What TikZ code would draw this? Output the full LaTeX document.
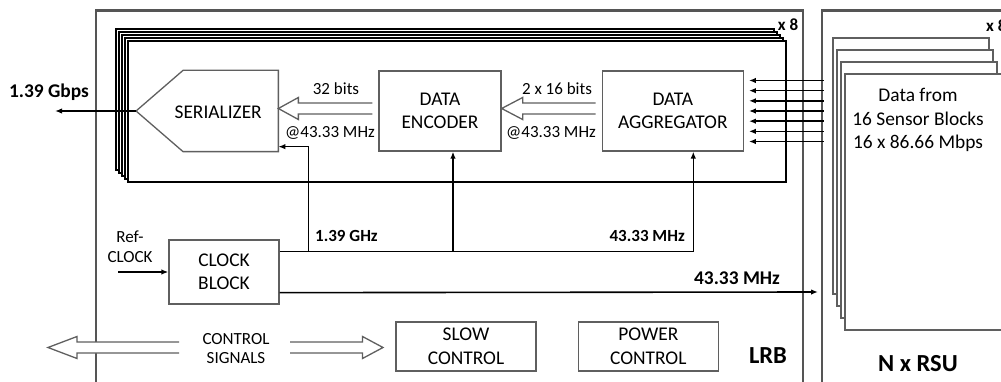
\documentclass[tikz,border=0pt]{standalone}
\usepackage{fontspec}
\setmainfont{Carlito}
\usetikzlibrary{arrows.meta, positioning, calc}
\definecolor{framegray}{RGB}{85,85,85}
\definecolor{boxgray}{RGB}{95,95,95}
\newcommand{\fsblock}{\fontsize{19.4}{23.5}\selectfont}
\newcommand{\fslbl}{\fontsize{17}{20}\selectfont}
\newcommand{\fsbig}{\fontsize{24.5}{28}\selectfont\bfseries}
% open (outline) arrow: tail, tip, signed head length
\newcommand{\fatarrow}[3]{%
  \draw[fatline] ($(#1)+(0,-5.5)$) -- ($(#2)+(#3,-5.5)$) -- ($(#2)+(#3,-11)$)
    -- (#2) -- ($(#2)+(#3,11)$) -- ($(#2)+(#3,5.5)$) -- ($(#1)+(0,5.5)$);}
\tikzset{
    block/.style={rectangle, draw=boxgray, line width=1.3pt, fill=white,
                  align=center, font=\fsblock, inner sep=0pt},
    blockline/.style={draw=boxgray, line width=1.3pt},
    outframe/.style={draw=framegray, line width=2.2pt},
    boardcard/.style={draw=black, line width=1.1pt, fill=white},
    rsucard/.style={draw=boxgray, line width=1.2pt, fill=white},
    fatline/.style={draw=boxgray, line width=1.3pt, fill=white},
    sig/.style={-{Latex[length=7pt, width=5.5pt]}, line width=1.6pt},
    lbl/.style={font=\fslbl, align=center, inner sep=0pt},
    clklbl/.style={font=\fslbl\bfseries, inner sep=0pt},
    biglbl/.style={font=\fsbig, inner sep=0pt},
}

\begin{document}
\begin{tikzpicture}[x=1pt, y=-1pt]
    \useasboundingbox (0,0) rectangle (1001,382);
    \clip (0,0) rectangle (1001,382);

    % LRB and RSU frames (open below)
    \draw[outframe] (96,395) -- (96,10.5) -- (803,10.5) -- (803,395);
    \draw[outframe] (822,395) -- (822,10.5) -- (1010,10.5);

    % stack of 8 boards
    \foreach \k in {4,3,2,1,0}
        \draw[boardcard] (128-3*\k,41-3*\k) rectangle (786-3*\k,182-3*\k);
    \node[clklbl] (lrbx) at (788,25) {x 8};

    % stack of RSU sheets
    \foreach \k in {3,2,1}
        \draw[rsucard] (845-4*\k,74-12*\k) rectangle (1001-4*\k,330-12*\k);
    \draw[rsucard] (845,74) rectangle (1008,330);
    \node[clklbl, anchor=west] (rsux) at (986,26) {x 8};
    \node[lbl, font=\fsblock] (rsutxt) at (918,120) {Data from\\16 Sensor Blocks\\16 x 86.66 Mbps};

    % data path
    \node[block, minimum width=122pt, minimum height=80pt] (enc) at (440,111) {DATA\\ENCODER};
    \node[block, minimum width=141pt, minimum height=80pt, right=100pt of enc] (agg) {DATA\\AGGREGATOR};
    \node[block, draw=none, fill=none, minimum width=94pt, minimum height=80pt, left=100pt of enc,
          label={[font=\fsblock, xshift=-12.5pt, yshift=-1.5pt]center:SERIALIZER}] (ser) {};
    \coordinate[left=47pt of ser.west] (sertip);
    \draw[blockline] (ser.north east) -- (ser.south east) -- (ser.south west)
        -- (sertip) -- (ser.north west) -- cycle;

    \coordinate (h1) at ($(enc.west)+(-6,-2.5)$);
    \fatarrow{h1}{ser.east |- h1}{20}
    \coordinate (h2) at ($(agg.west)+(-6,-2.5)$);
    \fatarrow{h2}{enc.east |- h2}{21}

    \node[lbl] (w32) at (336,89) {32 bits};
    \node[lbl] (f32) at (330,133) {@43.33 MHz};
    \node[lbl] (w16) at (557,89) {2 x 16 bits};
    \node[lbl] (f16) at (551,133) {@43.33 MHz};

    % output and inputs
    \coordinate (gbps) at ($(sertip)+(-81,0)$);
    \draw[sig] (sertip) -- (gbps);
    \node[clklbl, font=\fsblock\bfseries] (gbpslbl) at (49,92) {1.39 Gbps};

    \foreach \i in {0,...,6}
        \draw[sig] ($(agg.east)+(80,{(\i-3)*10.17})$) -- ($(agg.east)+(5,{(\i-3)*10.17})$);

    % clock distribution
    \node[block, minimum width=110pt, minimum height=64pt] (clk) at (224,272) {CLOCK\\BLOCK};
    \node[lbl] (ref) at (130,247) {Ref-\\CLOCK};
    \coordinate (refin) at (118,272);
    \draw[sig] (refin) -- (clk.west);

    \coordinate (cku) at ([yshift=-12pt]clk.north east);
    \coordinate (ckl) at ([yshift=12pt]clk.south east);
    \coordinate (aggclk) at ([xshift=20.5pt]agg.south);
    \coordinate (encclk) at ([xshift=13pt]enc.south);
    \coordinate (serclk) at ([yshift=5pt]ser.south east);
    \coordinate (gbr) at ($(cku)+(29,0)$);
    \coordinate (rsuin) at (818,292);

    \draw[sig] (cku) -| (aggclk);
    \draw[sig] (encclk |- cku) -- (encclk);
    \draw[sig] (gbr) |- (serclk);
    \draw[sig] (ckl) -- (rsuin);

    \node[clklbl, anchor=west] (ghz) at (315,236) {1.39 GHz};
    \node[clklbl, anchor=east] (mhz) at (685,236) {43.33 MHz};
    \node[clklbl, font=\fsblock\bfseries] (mhzout) at (737,278) {43.33 MHz};

    % control
    \node[block, minimum width=140pt, minimum height=49pt] (slow) at (466,346.5) {SLOW\\CONTROL};
    \node[block, minimum width=140pt, minimum height=49pt, right=41pt of slow] (pwr) {POWER\\CONTROL};
    \node[lbl, font=\fslbl\linespread{0.95}\selectfont] (ctrl) at (236,348.5) {CONTROL\\SIGNALS};
    \coordinate (ctl) at (179,347.5);
    \coordinate (ctr) at (290,347.5);
    \fatarrow{ctl}{48,347.5}{29}
    \fatarrow{ctr}{383,347.5}{-20.5}

    \node[biglbl] (lrb) at (768,356) {LRB};
    \node[biglbl] (rsu) at (918,364) {N x RSU};

\end{tikzpicture}
\end{document}
